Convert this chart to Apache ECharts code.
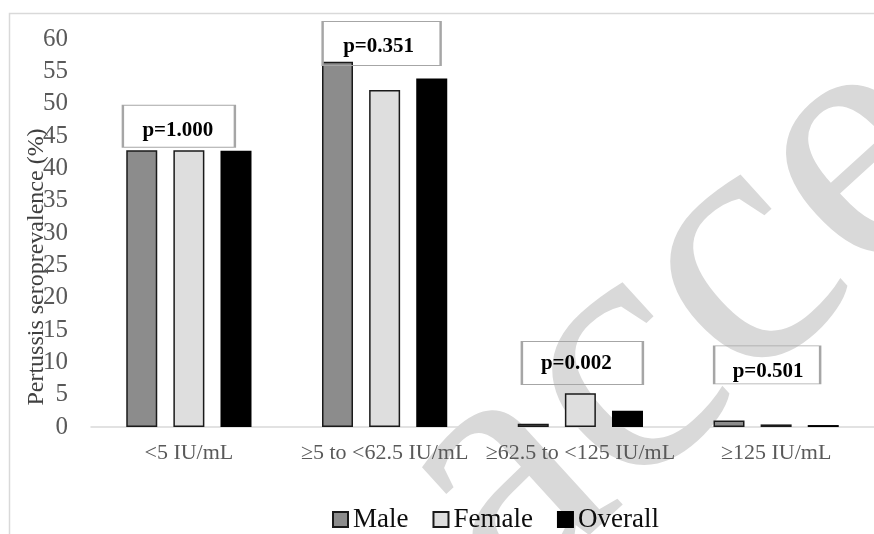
<!DOCTYPE html>
<html>
<head>
<meta charset="utf-8">
<script src="https://cdn.jsdelivr.net/npm/echarts@6/dist/echarts.min.js"></script>
<style>
html, body { margin: 0; padding: 0; background: #fff; }
#main { width: 874px; height: 534px; }
</style>
</head>
<body>
<div id="main"></div>
<script>
// antibody level groups
var categories = ['<5 IU/mL', '≥5 to <62.5 IU/mL', '≥62.5 to <125 IU/mL', '≥125 IU/mL'];
var male = [42.8, 56.5, 0.5, 1.0];
var female = [42.8, 52.1, 5.2, 0.4];
var overall = [42.7, 53.9, 2.5, 0.3];
// p-value boxes, y level in % where each box sits
var pValues = ['p=1.000', 'p=0.351', 'p=0.002', 'p=0.501'];
var pLevel = [46.5, 59.3, 9.9, 9.6];
var yMin = 0, yMax = 60, yStep = 5;

// box size / nudges (pixels), kept apart from the data
var boxSize = [[112, 42], [118, 44], [121, 43], [106, 38]];
var boxShift = [[-10, 0], [-3, 0], [2, 0], [-9, 0]];
var textShift = [[-1, 4], [-3, 3], [-6, 1], [1, 7]];

var serif = '"Liberation Serif", "Times New Roman", serif';

var dom = document.getElementById('main');
var chart = echarts.init(dom);

var boxes = [];
for (var i = 0; i < pValues.length; i++) {
  boxes.push({
    name: pValues[i],
    coord: [categories[i], pLevel[i]],
    symbolSize: boxSize[i],
    symbolOffset: boxShift[i],
    label: { offset: textShift[i] }
  });
}

function barSeries(name, data, fill, border) {
  return {
    name: name,
    type: 'bar',
    data: data,
    barWidth: 31,
    barGap: '52%',
    itemStyle: { color: fill, borderColor: border, borderWidth: 1.5 }
  };
}

var s1 = barSeries('Male', male, '#8c8c8c', '#1a1a1a');
var s2 = barSeries('Female', female, '#dedede', '#1a1a1a');
var s3 = barSeries('Overall', overall, '#000000', '#000000');
// middle series -> marker sits on the group centre
s2.markPoint = {
  symbol: 'rect',
  silent: true,
  itemStyle: { color: 'rgba(0,0,0,0)', borderColor: '#a6a6a6', borderWidth: 1.5 },
  label: {
    show: true,
    position: 'inside',
    formatter: '{b}',
    color: '#000',
    fontFamily: serif,
    fontWeight: 'bold',
    fontSize: 21
  },
  data: boxes
};

chart.setOption({
  animation: false,
  backgroundColor: '#fff',
  graphic: [
    { // faint frame of the original figure
      type: 'rect', z: -10, silent: true,
      shape: { x: 9.5, y: 13.5, width: 1000, height: 1000 },
      style: { fill: 'none', stroke: '#d9d9d9', lineWidth: 1.5 }
    },
    { // "accepted" watermark
      type: 'text', z: -9, silent: true,
      x: 566, y: 672, rotation: 0.74,
      style: {
        text: 'accepted',
        font: '360px "Liberation Serif"',
        fill: '#d9d9d9',
        textAlign: 'left',
        textVerticalAlign: 'bottom'
      }
    }
  ],
  grid: { left: 91, right: 0, top: 39, bottom: 107 },
  legend: {
    data: ['Male', 'Female', 'Overall'],
    left: 332,
    top: 506,
    padding: 0,
    icon: 'rect',
    itemWidth: 15,
    itemHeight: 15,
    itemGap: 24,
    textStyle: { fontFamily: serif, fontSize: 27, color: '#0d0d0d' }
  },
  xAxis: {
    type: 'category',
    data: categories,
    axisLine: { lineStyle: { color: '#d9d9d9', width: 1.5 } },
    axisTick: { show: false },
    axisLabel: { interval: 0, margin: 15, fontFamily: serif, fontSize: 22, color: '#595959' }
  },
  yAxis: {
    type: 'value',
    min: yMin,
    max: yMax,
    interval: yStep,
    name: 'Pertussis seroprevalence (%)',
    nameLocation: 'middle',
    nameGap: 42,
    nameMoveOverlap: false,
    nameTextStyle: { fontFamily: serif, fontSize: 24, color: '#404040', padding: [0, 68, 0, 0] },
    axisLine: { show: false },
    axisTick: { show: false },
    splitLine: { show: false },
    axisLabel: { margin: 23, fontFamily: serif, fontSize: 25, color: '#595959' }
  },
  series: [s1, s2, s3]
});
</script>
</body>
</html>
